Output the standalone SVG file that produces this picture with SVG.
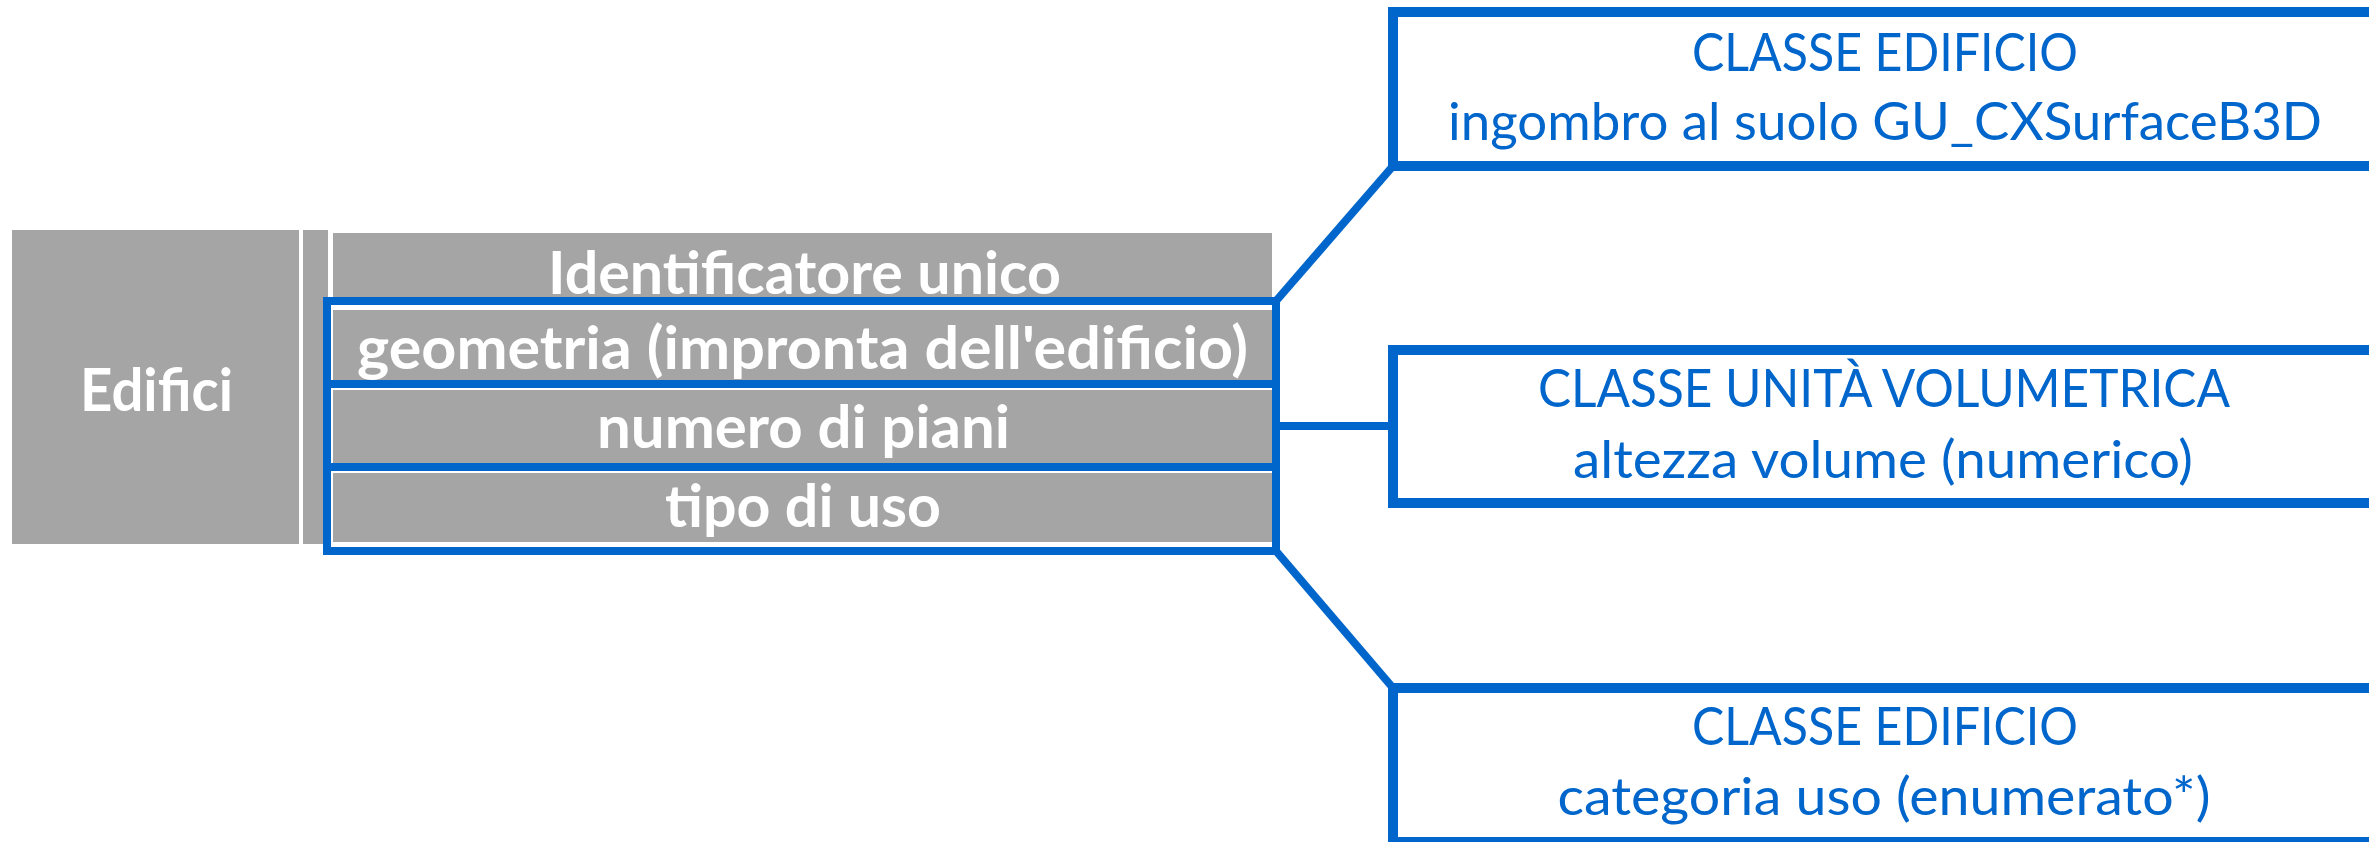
<svg xmlns="http://www.w3.org/2000/svg" width="2369" height="842" viewBox="0 0 2369 842">
<style>
.gray{fill:#A5A5A5}
.row{fill:#A5A5A5;stroke:#FFFFFF;stroke-width:2}
.wt{fill:#FFFFFF;font-family:Lato,"Liberation Sans",sans-serif;font-weight:bold;font-size:59px}
.bt{fill:#0066CC;font-family:Lato,"Liberation Sans",sans-serif;font-size:52px;text-anchor:middle}
.box{fill:#FFFFFF;stroke:#0066CC;stroke-width:10}
.blue{fill:none;stroke:#0066CC;stroke-width:8}
</style>
<rect width="2369" height="842" fill="#FFFFFF"/>
<g id="edifici">
<rect class="gray" x="12" y="230" width="287" height="314"/>
<rect class="gray" x="303" y="230" width="25" height="314"/>
<text class="wt" x="80" y="411" font-size="58" textLength="153" lengthAdjust="spacingAndGlyphs">Edifici</text>
</g>
<g id="attr-identificatore">
<rect class="row" x="332" y="232" width="941" height="71"/>
<text class="wt" x="548" y="294" textLength="513" lengthAdjust="spacingAndGlyphs">Identificatore unico</text>
</g>
<g id="attr-geometria">
<rect class="row" x="332" y="309" width="941" height="77"/>
<text class="wt" x="357" y="369" textLength="891" lengthAdjust="spacingAndGlyphs">geometria (impronta dell'edificio)</text>
</g>
<g id="attr-piani">
<rect class="row" x="332" y="389" width="941" height="77"/>
<text class="wt" x="597" y="448" textLength="413" lengthAdjust="spacingAndGlyphs">numero di piani</text>
</g>
<g id="attr-uso">
<rect class="row" x="332" y="472" width="941" height="71"/>
<text class="wt" x="665" y="527" textLength="276" lengthAdjust="spacingAndGlyphs">tipo di uso</text>
</g>
<g id="selection-frame">
<rect class="blue" x="327" y="301" width="949" height="250"/>
<line class="blue" x1="323" y1="384" x2="1280" y2="384"/>
<line class="blue" x1="323" y1="467" x2="1280" y2="467"/>
</g>
<g id="connectors">
<line class="blue" x1="1276" y1="301" x2="1393" y2="166"/>
<line class="blue" x1="1276" y1="426" x2="1393" y2="426"/>
<line class="blue" x1="1276" y1="551" x2="1393" y2="688"/>
</g>
<g id="box-edificio-ingombro">
<rect class="box" x="1393" y="12" width="984" height="154"/>
<text class="bt" x="1885" y="71" textLength="386" lengthAdjust="spacingAndGlyphs">CLASSE EDIFICIO</text>
<text class="bt" x="1885" y="140" textLength="874" lengthAdjust="spacingAndGlyphs">ingombro al suolo GU_CXSurfaceB3D</text>
</g>
<g id="box-unita-volumetrica">
<rect class="box" x="1393" y="350" width="984" height="153"/>
<text class="bt" x="1884" y="407" textLength="692" lengthAdjust="spacingAndGlyphs">CLASSE UNITÀ VOLUMETRICA</text>
<text class="bt" x="1883" y="478" textLength="620" lengthAdjust="spacingAndGlyphs">altezza volume (numerico)</text>
</g>
<g id="box-edificio-uso">
<rect class="box" x="1393" y="688" width="984" height="154"/>
<text class="bt" x="1885" y="745" textLength="386" lengthAdjust="spacingAndGlyphs">CLASSE EDIFICIO</text>
<text class="bt" x="1884" y="815" textLength="653" lengthAdjust="spacingAndGlyphs">categoria uso (enumerato*)</text>
</g>
</svg>
